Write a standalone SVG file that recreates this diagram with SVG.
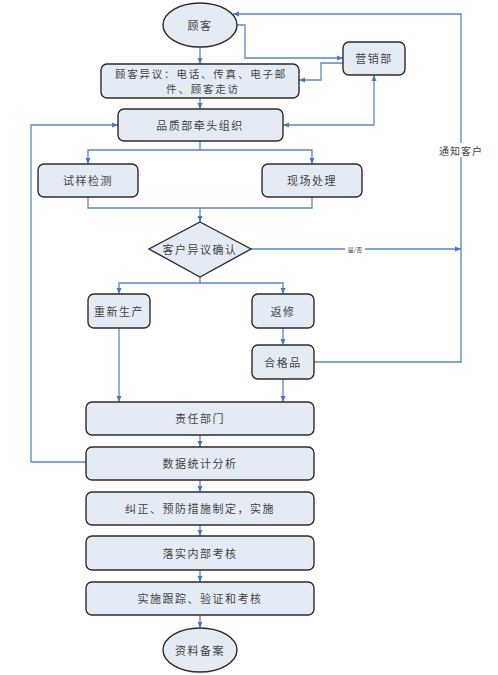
<svg xmlns="http://www.w3.org/2000/svg" width="498" height="675" viewBox="0 0 498 675">
<style>
.n{fill:#e5ebf5;stroke:#2b2b2b;stroke-width:1.4}
.t{font-family:"Noto Sans CJK SC","Liberation Sans",sans-serif;font-size:11px;fill:#444;text-anchor:middle;dominant-baseline:central;letter-spacing:1.5px}
.c{fill:none;stroke:#5b87c6;stroke-width:1.3}
.lb{fill:#fff}
.s{font-size:10.5px;letter-spacing:1.8px}
</style>
<defs>
<marker id="a" markerUnits="userSpaceOnUse" markerWidth="6" markerHeight="6" refX="6" refY="3" orient="auto-start-reverse"><path d="M0,0.5 L6,3 L0,5.5 z" fill="#4a78bd"/></marker>
</defs>
<rect width="498" height="675" fill="#fff"/>
<g id="connectors">
<path class="c" d="M200,47 V64" marker-end="url(#a)"/>
<path class="c" d="M237,25 H245 V58 H343" marker-end="url(#a)"/>
<path class="c" d="M343,63 H321 V80 H299" marker-end="url(#a)"/>
<path class="c" d="M200,98 V109" marker-end="url(#a)"/>
<path class="c" d="M374,75 V125 H283" marker-start="url(#a)" marker-end="url(#a)"/>
<path class="c" d="M200,141 V150 H88 V164" marker-end="url(#a)"/>
<path class="c" d="M200,150 H312 V164" marker-end="url(#a)"/>
<path class="c" d="M88,197 V208 H312 V197"/>
<path class="c" d="M200,208 V222" marker-end="url(#a)"/>
<path class="c" d="M251,249 H461" marker-end="url(#a)"/>
<path class="c" d="M200,277 V283 H119 V294" marker-end="url(#a)"/>
<path class="c" d="M200,283 H283 V294" marker-end="url(#a)"/>
<path class="c" d="M283,328 V345" marker-end="url(#a)"/>
<path class="c" d="M314,362 H461 V14 H233" marker-end="url(#a)"/>
<path class="c" d="M119,328 V402" marker-end="url(#a)"/>
<path class="c" d="M283,379 V402" marker-end="url(#a)"/>
<path class="c" d="M200,435 V447" marker-end="url(#a)"/>
<path class="c" d="M200,480 V492" marker-end="url(#a)"/>
<path class="c" d="M200,525 V536" marker-end="url(#a)"/>
<path class="c" d="M200,570 V582" marker-end="url(#a)"/>
<path class="c" d="M200,615 V628" marker-end="url(#a)"/>
<path class="c" d="M86,462 H31 V125 H118" marker-end="url(#a)"/>
<rect class="lb" x="436" y="143" width="50" height="14"/>
<text class="t" x="461" y="150" style="font-size:10px;letter-spacing:1px">通知客户</text>
<rect class="lb" x="345" y="245" width="20" height="8"/>
<text class="t" x="355" y="249" style="font-size:6px;letter-spacing:0">是/否</text>
</g>
<g id="customer"><ellipse class="n" cx="200" cy="25" rx="37" ry="22"/><text class="t" x="200" y="25">顾客</text></g>
<g id="objection"><rect class="n" x="101" y="64" width="198" height="34" rx="6"/><text class="t s" x="201" y="73">顾客异议：电话、传真、电子邮</text><text class="t s" x="203" y="88">件、顾客走访</text></g>
<g id="sales"><rect class="n" x="343" y="42" width="62" height="33" rx="6"/><text class="t" x="374" y="58">营销部</text></g>
<g id="quality"><rect class="n" x="118" y="109" width="165" height="32" rx="6"/><text class="t" x="200" y="125">品质部牵头组织</text></g>
<g id="sample"><rect class="n" x="38" y="164" width="100" height="33" rx="6"/><text class="t" x="88" y="180">试样检测</text></g>
<g id="site"><rect class="n" x="262" y="164" width="100" height="33" rx="6"/><text class="t" x="312" y="180">现场处理</text></g>
<g id="confirm"><path class="n" d="M200,222 L251,249 L200,277 L149,249 z"/><text class="t" x="200" y="249">客户异议确认</text></g>
<g id="reproduce"><rect class="n" x="88" y="294" width="62" height="34" rx="6"/><text class="t" x="119" y="311">重新生产</text></g>
<g id="repair"><rect class="n" x="252" y="294" width="62" height="34" rx="6"/><text class="t" x="283" y="311">返修</text></g>
<g id="qualified"><rect class="n" x="252" y="345" width="62" height="34" rx="6"/><text class="t" x="283" y="362">合格品</text></g>
<g id="dept"><rect class="n" x="86" y="402" width="228" height="33" rx="6"/><text class="t" x="200" y="418">责任部门</text></g>
<g id="stats"><rect class="n" x="86" y="447" width="228" height="33" rx="6"/><text class="t" x="200" y="463">数据统计分析</text></g>
<g id="correct"><rect class="n" x="86" y="492" width="228" height="33" rx="6"/><text class="t" x="200" y="508">纠正、预防措施制定，实施</text></g>
<g id="assess"><rect class="n" x="86" y="536" width="228" height="34" rx="6"/><text class="t" x="200" y="553">落实内部考核</text></g>
<g id="track"><rect class="n" x="86" y="582" width="228" height="33" rx="6"/><text class="t" x="200" y="598">实施跟踪、验证和考核</text></g>
<g id="archive"><ellipse class="n" cx="200" cy="650" rx="37" ry="22"/><text class="t" x="200" y="650">资料备案</text></g>
</svg>
